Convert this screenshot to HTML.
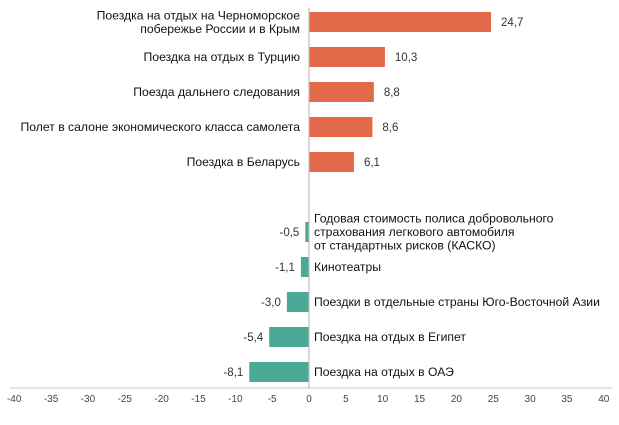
<!DOCTYPE html>
<html><head><meta charset="utf-8"><style>
body{margin:0;background:#fff;}
svg{display:block;font-family:"Liberation Sans",sans-serif;}
</style></head><body>
<svg id="c" width="619" height="425"></svg>
<script>
const categories=[
["Поездка на отдых на Черноморское","побережье России и в Крым"],
["Поездка на отдых в Турцию"],
["Поезда дальнего следования"],
["Полет в салоне экономического класса самолета"],
["Поездка в Беларусь"],
["Годовая стоимость полиса добровольного","страхования легкового автомобиля","от стандартных рисков (КАСКО)"],
["Кинотеатры"],
["Поездки в отдельные страны Юго-Восточной Азии"],
["Поездка на отдых в Египет"],
["Поездка на отдых в ОАЭ"]];
const values=[24.7,10.3,8.8,8.6,6.1,-0.5,-1.1,-3.0,-5.4,-8.1];
const slots=[0,1,2,3,4,6,7,8,9,10];
const ticks=[-40,-35,-30,-25,-20,-15,-10,-5,0,5,10,15,20,25,30,35,40];
const NS="http://www.w3.org/2000/svg";
const svg=document.getElementById('c');
const x=v=>309+v*7.37;
const y=i=>22+i*35;
function mk(t,a,txt){const e=document.createElementNS(NS,t);for(const k in a)e.setAttribute(k,a[k]);if(txt!==undefined)e.textContent=txt;svg.appendChild(e);return e;}
const ax=mk('line',{x1:10,x2:612,y1:388,y2:388,stroke:'#c8c8c8','stroke-width':1});


ticks.forEach(t=>{
const e=mk('text',{x:x(t),y:402,'text-anchor':'middle','font-size':10,fill:'#444'},String(t));


});
values.forEach((v,i)=>{
const cy=y(slots[i]);const pos=v>=0;
const r=mk('rect',{x:Math.min(x(0),x(v)),y:cy-10,width:Math.abs(x(v)-x(0)),height:20,fill:pos?'#E4694A':'#4AAA96'});


const lbl=v.toFixed(1).replace('.',',');
const vt=mk('text',{x:pos?x(v)+10:x(v)-6,y:cy+4,'text-anchor':pos?'start':'end','font-size':11.5,fill:'#333'},lbl);


const lines=categories[i];const n=lines.length;
lines.forEach((ln,j)=>{
const ty=cy+4+(j-(n-1)/2)*13.5;
const ct=mk('text',{x:pos?300:314,y:ty,'text-anchor':pos?'end':'start','font-size':12.2,fill:'#111'},ln);


});
});
const z=mk('line',{x1:309,x2:309,y1:8,y2:388,stroke:'#bdbdbd','stroke-width':1.2});


</script>
</body></html>
